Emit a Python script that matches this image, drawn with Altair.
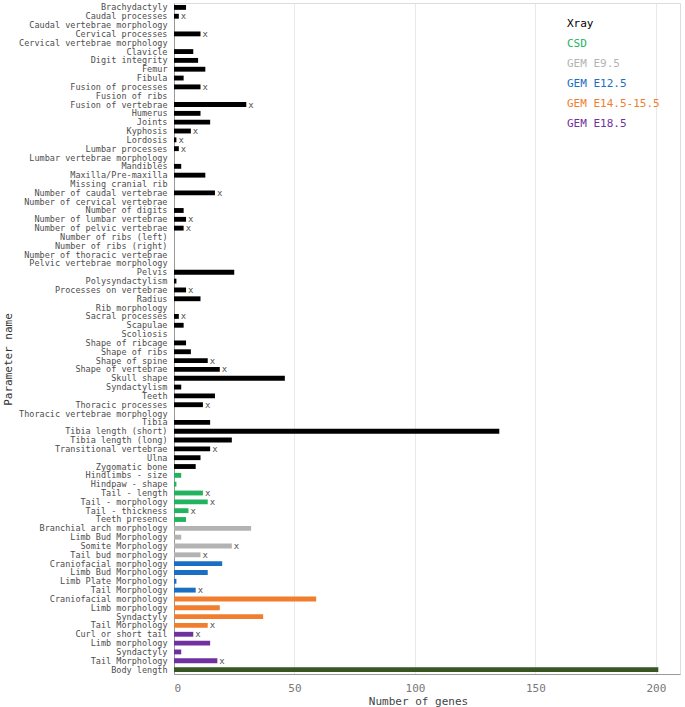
import altair as alt
import pandas as pd

labels = [
    "Brachydactyly", "Caudal processes", "Caudal vertebrae morphology", "Cervical processes",
    "Cervical vertebrae morphology", "Clavicle", "Digit integrity", "Femur", "Fibula",
    "Fusion of processes", "Fusion of ribs", "Fusion of vertebrae", "Humerus", "Joints",
    "Kyphosis", "Lordosis", "Lumbar processes", "Lumbar vertebrae morphology", "Mandibles",
    "Maxilla/Pre-maxilla", "Missing cranial rib", "Number of caudal vertebrae",
    "Number of cervical vertebrae", "Number of digits", "Number of lumbar vertebrae",
    "Number of pelvic vertebrae", "Number of ribs (left)", "Number of ribs (right)",
    "Number of thoracic vertebrae", "Pelvic vertebrae morphology", "Pelvis", "Polysyndactylism",
    "Processes on vertebrae", "Radius", "Rib morphology", "Sacral processes", "Scapulae",
    "Scoliosis", "Shape of ribcage", "Shape of ribs", "Shape of spine", "Shape of vertebrae",
    "Skull shape", "Syndactylism", "Teeth", "Thoracic processes", "Thoracic vertebrae morphology",
    "Tibia", "Tibia length (short)", "Tibia length (long)", "Transitional vertebrae", "Ulna",
    "Zygomatic bone",
    "Hindlimbs - size", "Hindpaw - shape", "Tail - length", "Tail - morphology",
    "Tail - thickness", "Teeth presence",
    "Branchial arch morphology", "Limb Bud Morphology", "Somite Morphology", "Tail bud morphology",
    "Craniofacial morphology", "Limb Bud Morphology", "Limb Plate Morphology", "Tail Morphology",
    "Craniofacial morphology", "Limb morphology", "Syndactyly", "Tail Morphology",
    "Curl or short tail", "Limb morphology", "Syndactyly", "Tail Morphology",
    "Body length",
]

values = [
    5, 2, 0, 11, 0, 8, 10, 13, 4, 11, 0, 30, 11, 15, 7, 1, 2, 0, 3, 13, 0, 17, 0, 4, 5, 4,
    0, 0, 0, 0, 25, 1, 5, 11, 0, 2, 4, 0, 5, 7, 14, 19, 46, 3, 17, 12, 0, 15, 135, 24, 15, 11, 9,
    3, 1, 12, 14, 6, 5,
    32, 3, 24, 11,
    20, 14, 1, 9,
    59, 19, 37, 14,
    8, 15, 3, 18,
    201,
]

groups = (["Xray"] * 53 + ["CSD"] * 6 + ["GEM E9.5"] * 4 + ["GEM E12.5"] * 4
          + ["GEM E14.5-15.5"] * 4 + ["GEM E18.5"] * 4 + ["Body length"])

markers = [
    "", "x", "", "x", "", "", "", "", "", "x", "", "x", "", "", "x", "x", "x", "", "", "",
    "", "x", "", "", "x", "x", "", "", "", "", "", "", "x", "", "", "x", "", "", "", "",
    "x", "x", "", "", "", "x", "", "", "", "", "x", "", "",
    "", "", "x", "x", "x", "",
    "", "", "x", "x",
    "", "", "", "x",
    "", "", "", "x",
    "x", "", "", "x",
    "",
]

legend_names = ["Xray", "CSD", "GEM E9.5", "GEM E12.5", "GEM E14.5-15.5", "GEM E18.5"]
color_domain = legend_names + ["Body length"]
color_range = ["#000000", "#22b35e", "#b3b3b3", "#1a6ec4", "#f07e2e", "#7030a0", "#375623"]

keys = [f"{i:02d}|{lab}" for i, lab in enumerate(labels)]
df = pd.DataFrame({"key": keys, "value": values, "group": groups, "marker": markers})
leg = pd.DataFrame({"name": legend_names, "order": list(range(len(legend_names)))})

FONT = "DejaVu Sans Mono"

y_enc = alt.Y(
    "key:N", sort=None,
    scale=alt.Scale(paddingInner=0.45, paddingOuter=0.225),
    axis=alt.Axis(
        labelExpr="split(datum.label, '|')[1]", ticks=False, labelPadding=7,
        labelFontSize=8.5, labelColor="#4d4d4d", labelLimit=400, domainColor="#999999",
        grid=False, title="Parameter name", titleX=-166, titleY=356, titleAngle=270,
        titleFontSize=11, titleFontWeight="normal", titleAlign="center",
        titleBaseline="middle", titleColor="#333333", labelFont=FONT, titleFont=FONT,
    ),
)

x_enc = alt.X(
    "value:Q",
    scale=alt.Scale(domain=[0, 210], nice=False),
    axis=alt.Axis(
        values=[0, 50, 100, 150, 200], ticks=False, labelPadding=8, grid=True,
        gridColor="#e8e8e8", domainColor="#999999", labelColor="#777777", labelFontSize=11,
        title="Number of genes", titleFontSize=11, titleFontWeight="normal",
        titleColor="#444444", titleX=244, titleY=27, titleBaseline="middle",
        labelFont=FONT, titleFont=FONT,
    ),
)

color_enc = alt.Color("group:N", scale=alt.Scale(domain=color_domain, range=color_range),
                      legend=None)

bars = alt.Chart(df).mark_bar().encode(x=x_enc, y=y_enc, color=color_enc)

xs = alt.Chart(df).transform_filter("datum.marker != ''").mark_text(
    align="left", baseline="middle", dx=2, fontSize=9, font=FONT, color="#555555"
).encode(x="value:Q", y=alt.Y("key:N", sort=None), text="marker:N")

main = alt.layer(bars, xs)

legend = alt.Chart(leg).mark_text(
    align="left", baseline="middle", fontSize=11, font=FONT
).encode(
    x=alt.value(393),
    y=alt.Y("order:O", scale=alt.Scale(type="point", range=[21, 121], padding=0), axis=None),
    text="name:N",
    color=alt.Color("name:N", scale=alt.Scale(domain=color_domain, range=color_range),
                    legend=None),
)

chart = alt.layer(main, legend).resolve_scale(y="independent").properties(
    width=506, height=671,
    autosize=alt.AutoSizeParams(type="none"),
    padding={"left": 174, "top": 3, "right": 5, "bottom": 33},
).configure_view(stroke=None).configure(font=FONT)

chart.save("out.html", embed_options={"renderer": "svg", "actions": False})
